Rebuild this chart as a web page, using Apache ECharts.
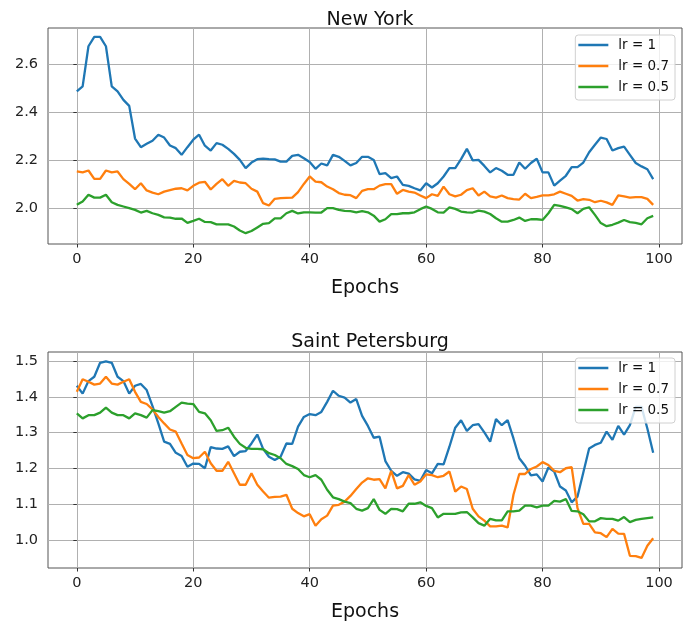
<!DOCTYPE html>
<html>
<head>
<meta charset="utf-8">
<script src="https://cdn.jsdelivr.net/npm/echarts@6/dist/echarts.min.js"></script>
<style>html,body{margin:0;padding:0;background:#fff;}#c{width:693px;height:628px;}</style>
</head>
<body>
<div id="c"></div>
<script>
const seriesNames = ['lr = 1', 'lr = 0.7', 'lr = 0.5'];
const xTicks = [0, 20, 40, 60, 80, 100];
const nyTicks = [2.0, 2.2, 2.4, 2.6];
const spTicks = [1.0, 1.1, 1.2, 1.3, 1.4, 1.5];

const nyLr1 = [2.486,2.507,2.674,2.713,2.713,2.674,2.507,2.486,2.451,2.426,
2.290,2.254,2.268,2.281,2.306,2.294,2.261,2.250,2.222,2.254,
2.285,2.306,2.260,2.240,2.271,2.264,2.247,2.226,2.201,2.167,
2.190,2.204,2.206,2.204,2.203,2.194,2.194,2.218,2.222,2.208,
2.192,2.164,2.186,2.178,2.222,2.214,2.197,2.178,2.188,2.214,
2.214,2.201,2.142,2.146,2.125,2.132,2.097,2.093,2.083,2.074,
2.104,2.086,2.104,2.132,2.167,2.167,2.204,2.247,2.199,2.201,
2.176,2.149,2.167,2.156,2.139,2.139,2.190,2.164,2.188,2.206,
2.149,2.149,2.094,2.115,2.135,2.171,2.171,2.190,2.233,2.264,
2.294,2.288,2.240,2.250,2.256,2.222,2.188,2.174,2.162,2.121];

const nyLr07 = [2.153,2.149,2.157,2.122,2.122,2.157,2.149,2.153,2.121,2.101,
2.079,2.104,2.074,2.065,2.058,2.069,2.075,2.081,2.083,2.074,
2.093,2.106,2.110,2.078,2.101,2.121,2.093,2.114,2.107,2.104,
2.081,2.069,2.021,2.011,2.039,2.042,2.043,2.044,2.067,2.101,
2.132,2.111,2.108,2.090,2.079,2.063,2.056,2.054,2.042,2.072,
2.079,2.079,2.094,2.100,2.100,2.060,2.076,2.069,2.065,2.053,
2.042,2.058,2.051,2.090,2.058,2.049,2.056,2.075,2.083,2.053,
2.069,2.049,2.044,2.053,2.042,2.038,2.036,2.060,2.042,2.047,
2.053,2.053,2.058,2.069,2.060,2.051,2.032,2.038,2.035,2.025,
2.031,2.024,2.014,2.053,2.049,2.044,2.046,2.046,2.039,2.014];

const nyLr05 = [2.014,2.028,2.056,2.044,2.044,2.056,2.025,2.014,2.007,2.000,
1.993,1.982,1.989,1.979,1.972,1.962,1.961,1.956,1.957,1.939,
1.947,1.956,1.943,1.942,1.933,1.933,1.933,1.924,1.907,1.896,
1.905,1.920,1.935,1.938,1.958,1.958,1.979,1.989,1.978,1.983,
1.983,1.982,1.982,2.000,2.000,1.993,1.989,1.988,1.983,1.988,
1.983,1.969,1.944,1.954,1.975,1.975,1.979,1.979,1.983,1.996,
2.007,1.997,1.983,1.982,2.003,1.997,1.986,1.983,1.982,1.990,
1.986,1.976,1.958,1.944,1.944,1.951,1.961,1.947,1.954,1.954,
1.951,1.979,2.014,2.010,2.003,1.996,1.979,1.997,2.004,1.972,
1.938,1.925,1.931,1.940,1.951,1.942,1.939,1.933,1.958,1.968];

const spLr1 = [1.431,1.409,1.444,1.456,1.495,1.499,1.495,1.456,1.444,1.409,
1.431,1.436,1.419,1.374,1.326,1.275,1.269,1.244,1.235,1.205,
1.214,1.213,1.201,1.260,1.256,1.255,1.262,1.235,1.247,1.249,
1.270,1.295,1.255,1.233,1.224,1.233,1.270,1.269,1.317,1.344,
1.352,1.349,1.358,1.386,1.417,1.403,1.398,1.384,1.394,1.347,
1.319,1.286,1.289,1.221,1.194,1.180,1.190,1.186,1.170,1.166,
1.196,1.187,1.213,1.212,1.261,1.314,1.335,1.305,1.321,1.324,
1.301,1.275,1.338,1.321,1.335,1.284,1.229,1.208,1.181,1.184,
1.164,1.203,1.192,1.150,1.139,1.106,1.122,1.189,1.256,1.266,
1.272,1.303,1.280,1.319,1.295,1.321,1.372,1.372,1.312,1.244];

const spLr07 = [1.414,1.449,1.442,1.434,1.437,1.456,1.437,1.434,1.442,1.449,
1.414,1.386,1.380,1.365,1.344,1.326,1.309,1.303,1.270,1.238,
1.229,1.231,1.247,1.215,1.194,1.194,1.219,1.187,1.155,1.155,
1.187,1.155,1.136,1.119,1.121,1.122,1.127,1.088,1.076,1.067,
1.073,1.041,1.059,1.069,1.097,1.099,1.108,1.124,1.143,1.161,
1.173,1.169,1.171,1.145,1.194,1.145,1.152,1.182,1.155,1.164,
1.184,1.182,1.176,1.180,1.192,1.136,1.150,1.143,1.088,1.067,
1.055,1.039,1.039,1.041,1.036,1.127,1.185,1.185,1.199,1.206,
1.218,1.210,1.194,1.190,1.201,1.204,1.090,1.046,1.046,1.022,
1.020,1.009,1.032,1.019,1.018,0.957,0.956,0.951,0.985,1.006];

const spLr05 = [1.354,1.340,1.349,1.349,1.356,1.370,1.356,1.349,1.349,1.340,
1.354,1.349,1.342,1.363,1.360,1.356,1.360,1.372,1.384,1.381,
1.380,1.358,1.354,1.335,1.305,1.307,1.314,1.289,1.269,1.258,
1.255,1.255,1.254,1.243,1.238,1.229,1.213,1.207,1.199,1.182,
1.176,1.182,1.169,1.141,1.120,1.115,1.108,1.104,1.088,1.083,
1.090,1.115,1.085,1.074,1.088,1.087,1.081,1.102,1.102,1.106,
1.096,1.090,1.064,1.074,1.074,1.074,1.078,1.079,1.064,1.048,
1.041,1.060,1.056,1.056,1.081,1.081,1.083,1.097,1.097,1.092,
1.097,1.097,1.110,1.108,1.115,1.082,1.081,1.073,1.053,1.053,
1.062,1.060,1.060,1.055,1.065,1.051,1.057,1.060,1.062,1.064];

const colors = ['#1f77b4', '#ff7f0e', '#2ca02c'];
const FONT = 'DejaVu Sans';

function pairs(arr) { return arr.map((v, i) => [i, v]); }

function xAxisCfg(gi) {
  return {
    gridIndex: gi, type: 'value', min: -4.95, max: 103.95,
    axisLine: { show: false },
    axisTick: { show: true, customValues: xTicks, length: 3.5, lineStyle: { color: '#333', width: 1 } },
    axisLabel: { customValues: xTicks, fontFamily: FONT, fontSize: 14.5, color: '#222', margin: 8 },
    splitLine: { show: true, lineStyle: { color: '#b0b0b0', width: 1 } },
    name: 'Epochs', nameLocation: 'middle', nameGap: 35,
    nameTextStyle: { fontFamily: FONT, fontSize: 19, color: '#111' }
  };
}
function yAxisCfg(gi, mn, mx, ticks) {
  return {
    gridIndex: gi, type: 'value', min: mn, max: mx,
    axisLine: { show: false },
    axisTick: { show: true, customValues: ticks, length: 3.5, lineStyle: { color: '#333', width: 1 } },
    axisLabel: { customValues: ticks, fontFamily: FONT, fontSize: 14.5, color: '#222', margin: 10,
      formatter: v => Number(v).toFixed(1) },
    splitLine: { show: true, lineStyle: { color: '#b0b0b0', width: 1 } }
  };
}
function legendCfg(top) {
  return {
    data: seriesNames, orient: 'vertical', right: 18, top: top, align: 'left',
    icon: 'rect', itemWidth: 30, itemHeight: 2.5, itemGap: 5,
    backgroundColor: 'rgba(255,255,255,0.8)', borderColor: '#d0d0d0', borderWidth: 1, borderRadius: 3,
    padding: [2, 6, 5, 3],
    textStyle: { fontFamily: FONT, fontSize: 13.5, color: '#111', lineHeight: 16, padding: [0, 0, 0, 5] }
  };
}

const nyData = [nyLr1, nyLr07, nyLr05];
const spData = [spLr1, spLr07, spLr05];
const series = [];
[nyData, spData].forEach((group, gi) => {
  group.forEach((arr, si) => {
    series.push({
      name: seriesNames[si], type: 'line', xAxisIndex: gi, yAxisIndex: gi,
      data: pairs(arr), showSymbol: false, symbol: 'none', animation: false,
      lineStyle: { color: colors[si], width: 2.3 }, itemStyle: { color: colors[si] }
    });
  });
});

const chart = echarts.init(document.getElementById('c'), null, { renderer: 'canvas' });
chart.setOption({
  animation: false,
  backgroundColor: '#fff',
  title: [
    { text: 'New York', left: 365, top: 6, textAlign: 'center', textStyle: { fontFamily: FONT, fontSize: 19, fontWeight: 'normal', color: '#111' } },
    { text: 'Saint Petersburg', left: 365, top: 328, textAlign: 'center', textStyle: { fontFamily: FONT, fontSize: 19, fontWeight: 'normal', color: '#111' } }
  ],
  legend: [legendCfg(35), legendCfg(358)],
  grid: [
    { left: 48, right: 11, top: 28, height: 216, show: true, borderColor: '#555', borderWidth: 1, backgroundColor: 'transparent' },
    { left: 48, right: 11, top: 352, height: 216, show: true, borderColor: '#555', borderWidth: 1, backgroundColor: 'transparent' }
  ],
  xAxis: [xAxisCfg(0), xAxisCfg(1)],
  yAxis: [yAxisCfg(0, 1.851, 2.75, nyTicks), yAxisCfg(1, 0.923, 1.525, spTicks)],
  series: series
});
</script>
</body>
</html>
